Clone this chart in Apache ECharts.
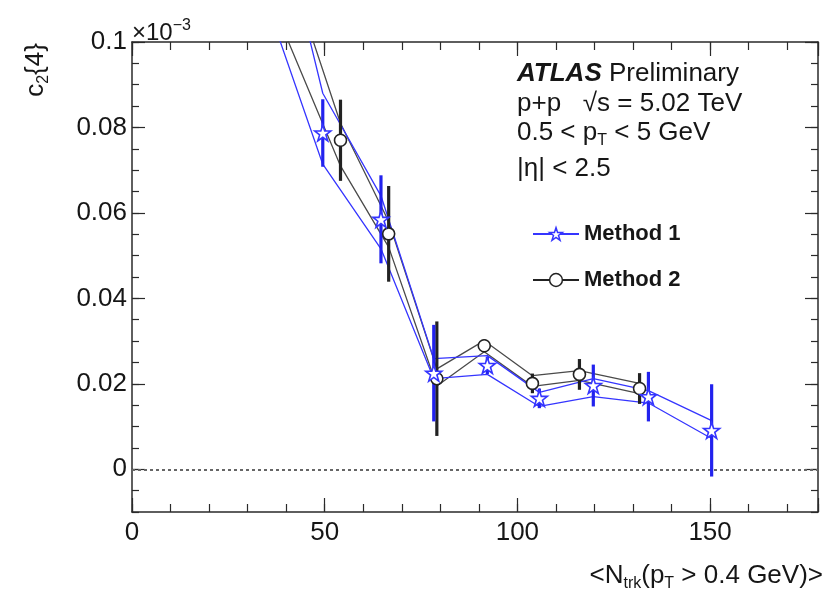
<!DOCTYPE html>
<html><head><meta charset="utf-8">
<script src="https://cdn.jsdelivr.net/npm/echarts@6/dist/echarts.min.js"></script>
<style>html,body{margin:0;padding:0;background:#fff}#c{width:827px;height:596px}</style>
</head><body><div id="c"></div>
<script>
// ---- Data ----
const m1X      = [49.5, 64.6, 78.3, 92.2, 105.7, 119.7, 134.0, 150.4];
const m1Y      = [0.0787, 0.0585, 0.0225, 0.0243, 0.0166, 0.0196, 0.0170, 0.0091];
const m1Err    = [0.0079, 0.0103, 0.0113, 0.0020, 0.0023, 0.0049, 0.0058, 0.0108];
const m1BandX  = [36, 49.5, 64.6, 78.3, 92.2, 105.7, 119.7, 134.0, 150.4];
const m1BandHi = [0.138, 0.088, 0.064, 0.0259, 0.0266, 0.0180, 0.0212, 0.0184, 0.0114];
const m1BandLo = [0.1065, 0.0714, 0.0516, 0.0212, 0.0222, 0.0147, 0.0170, 0.0155, 0.0072];

const m2X      = [54.1, 66.6, 79.1, 91.4, 103.9, 116.1, 131.7];
const m2Y      = [0.0770, 0.0551, 0.0212, 0.0289, 0.0201, 0.0222, 0.0189];
const m2Err    = [0.0095, 0.0112, 0.0134, 0.0015, 0.0023, 0.0036, 0.0036];
const m2BandX  = [40, 54.1, 66.6, 79.1, 91.4, 103.9, 116.1, 131.7];
const m2BandHi = [0.1192, 0.081, 0.058, 0.0235, 0.0301, 0.0219, 0.0231, 0.0201];
const m2BandLo = [0.1013, 0.071, 0.052, 0.0195, 0.0275, 0.0194, 0.0208, 0.0177];

const xMajorTicks = [0, 50, 100, 150];
const yMajorTicks = [0, 0.02, 0.04, 0.06, 0.08, 0.1];
const seriesNames = ['Method 1', 'Method 2'];

// ---- Styling ----
const FONT = 'Liberation Sans, Arial, Helvetica, sans-serif';
const BLUE = '#3535ff', BLUE_BAR = '#2222ee';
const GRAY = '#4a4a4a', BLACK_BAR = '#222222';
const AX = '#2a2a2a';
const TXT = '#161616';
const X_MIN = 0, X_MAX = 178, Y_MIN = -0.01, Y_MAX = 0.1;

const zip = (a, b) => a.map((v, i) => [v, b[i]]);
const errData = (xs, ys, es) => xs.map((x, i) => [x, ys[i] - es[i], ys[i] + es[i]]);
const isTick = (list, v) => list.find(t => Math.abs(t - v) < 1e-9);

const STAR = 'path://M50,2 L61.5,36 L97,36 L68.5,57.5 L79.5,92 L50,71 L20.5,92 L31.5,57.5 L3,36 L38.5,36 Z';

function xAx(pos, major) {
  return {
    type: 'value', position: pos, min: X_MIN, max: X_MAX, interval: major ? 50 : 10,
    axisLine: { show: major, onZero: false, lineStyle: { color: AX, width: 1.5 } },
    axisTick: { show: true, inside: true, length: major ? 14 : 8, lineStyle: { color: AX, width: 1.2 } },
    axisLabel: (major && pos === 'bottom') ? {
      show: true, margin: 8, color: TXT, fontFamily: FONT, fontSize: 26,
      formatter: v => { const t = isTick(xMajorTicks, v); return t === undefined ? '' : String(t); }
    } : { show: false },
    splitLine: { show: false }
  };
}
function yAx(pos, major) {
  const o = {
    type: 'value', position: pos, min: Y_MIN, max: Y_MAX, interval: 0.005,
    axisLine: { show: !major, onZero: false, lineStyle: { color: AX, width: 1.5 } },
    axisTick: { show: true, inside: true, length: major ? 13 : 7, lineStyle: { color: AX, width: 1.2 } },
    axisLabel: (!major && pos === 'left') ? {
      show: true, margin: 5, color: TXT, fontFamily: FONT, fontSize: 26,
      formatter: v => { const t = isTick(yMajorTicks, v); return t === undefined ? '' : String(t); }
    } : { show: false },
    splitLine: { show: false }
  };
  if (major) o.axisTick.customValues = yMajorTicks;
  return o;
}

function errSeries(name, xs, ys, es, color, z) {
  return {
    type: 'custom', name: name, xAxisIndex: 0, yAxisIndex: 0, z: z, silent: true,
    data: errData(xs, ys, es), encode: { x: 0, y: [1, 2] },
    renderItem: (params, api) => {
      const p1 = api.coord([api.value(0), api.value(1)]);
      const p2 = api.coord([api.value(0), api.value(2)]);
      return { type: 'line', shape: { x1: p1[0], y1: p1[1], x2: p2[0], y2: p2[1] },
               style: { stroke: color, lineWidth: 3.2 } };
    }
  };
}
function bandSeries(name, xs, ys, color, z, extra) {
  return Object.assign({
    type: 'line', name: name, xAxisIndex: 0, yAxisIndex: 0, data: zip(xs, ys),
    showSymbol: false, symbol: 'none', silent: true, z: z, clip: true,
    lineStyle: { color: color, width: 1.3 }
  }, extra || {});
}

const FS = 26;
const subRich = {
  m: { fontSize: FS, lineHeight: 32, verticalAlign: 'middle', fontFamily: FONT },
  s: { fontSize: 16, lineHeight: 4, verticalAlign: 'bottom', fontFamily: FONT },
  u: { fontSize: 16, lineHeight: 10, verticalAlign: 'top', fontFamily: FONT },
  b: { fontSize: FS, lineHeight: 32, verticalAlign: 'middle', fontFamily: FONT, fontWeight: 'bold', fontStyle: 'italic' }
};

const option = {
  animation: false,
  backgroundColor: '#fff',
  grid: { left: 132, right: 9, top: 42, bottom: 84, containLabel: false },
  xAxis: [xAx('bottom', true), xAx('bottom', false), xAx('top', true), xAx('top', false)],
  yAxis: [yAx('left', false), yAx('left', true), yAx('right', false), yAx('right', true)],
  legend: {
    data: seriesNames, orient: 'vertical', left: 527, top: 218,
    itemWidth: 46, itemHeight: 16, itemGap: 24,
    textStyle: { fontFamily: FONT, fontSize: 22, fontWeight: 'bold', color: TXT },
    lineStyle: { width: 2, opacity: 1 },
    itemStyle: { borderWidth: 1.5 },
    selectedMode: false
  },
  graphic: [
    { type: 'text', x: 36, y: 70, rotation: Math.PI / 2, silent: true,
      style: { text: '{m|c}{s|2}{m|\u007B4\u007D}', align: 'center', verticalAlign: 'middle', fill: TXT, rich: subRich, fontFamily: FONT, fontSize: FS } },
    { type: 'text', x: 132, y: 33, silent: true,
      style: { text: '{m|×10}{u|−3}', align: 'left', verticalAlign: 'middle', fill: TXT, fontFamily: FONT, fontSize: 24,
        rich: { m: { fontSize: 24, lineHeight: 30, verticalAlign: 'middle', fontFamily: FONT }, u: { fontSize: 16, lineHeight: 8, verticalAlign: 'top', fontFamily: FONT } } } },
    { type: 'text', x: 823, y: 576, silent: true,
      style: { text: '{m|<N}{s|trk}{m|(p}{s|T}{m| > 0.4 GeV)>}', align: 'right', verticalAlign: 'middle', fill: TXT, rich: subRich, fontFamily: FONT, fontSize: FS } },
    { type: 'text', x: 517, y: 74, silent: true,
      style: { text: '{b|ATLAS} {m|Preliminary}', align: 'left', verticalAlign: 'middle', fill: TXT, rich: subRich, fontFamily: FONT, fontSize: FS } },
    { type: 'text', x: 517, y: 104, silent: true,
      style: { text: '{m|p+p   √s = 5.02 TeV}', align: 'left', verticalAlign: 'middle', fill: TXT, rich: subRich, fontFamily: FONT, fontSize: FS } },
    { type: 'text', x: 517, y: 133, silent: true,
      style: { text: '{m|0.5 < p}{s|T}{m| < 5 GeV}', align: 'left', verticalAlign: 'middle', fill: TXT, rich: subRich, fontFamily: FONT, fontSize: FS } },
    { type: 'text', x: 517, y: 169, silent: true,
      style: { text: '{m||η| < 2.5}', align: 'left', verticalAlign: 'middle', fill: TXT, rich: subRich, fontFamily: FONT, fontSize: FS } }
  ],
  series: [
    bandSeries('m2 sys hi', m2BandX, m2BandHi, GRAY, 2, {
      markLine: { silent: true, symbol: ['none', 'none'], label: { show: false },
        lineStyle: { color: '#666', type: [3, 3], width: 2 }, data: [{ yAxis: 0 }] } }),
    bandSeries('m2 sys lo', m2BandX, m2BandLo, GRAY, 2),
    bandSeries('m1 sys hi', m1BandX, m1BandHi, BLUE, 3),
    bandSeries('m1 sys lo', m1BandX, m1BandLo, BLUE, 3),
    errSeries('m2 stat', m2X, m2Y, m2Err, BLACK_BAR, 4),
    errSeries('m1 stat', m1X, m1Y, m1Err, BLUE_BAR, 5),
    { type: 'line', name: seriesNames[1], xAxisIndex: 0, yAxisIndex: 0, data: zip(m2X, m2Y), z: 6,
      symbol: 'circle', symbolSize: 12, showSymbol: true, showAllSymbol: true, silent: true,
      lineStyle: { color: BLACK_BAR, opacity: 0 },
      itemStyle: { color: '#fff', borderColor: BLACK_BAR, borderWidth: 1.6 } },
    { type: 'line', name: seriesNames[0], xAxisIndex: 0, yAxisIndex: 0, data: zip(m1X, m1Y), z: 7,
      symbol: STAR, symbolSize: 16, showSymbol: true, showAllSymbol: true, silent: true,
      lineStyle: { color: BLUE, opacity: 0 },
      itemStyle: { color: '#fff', borderColor: BLUE, borderWidth: 1.6 } }
  ]
};

const chart = echarts.init(document.getElementById('c'), null, { renderer: 'canvas' });
chart.setOption(option);
</script>
</body></html>
